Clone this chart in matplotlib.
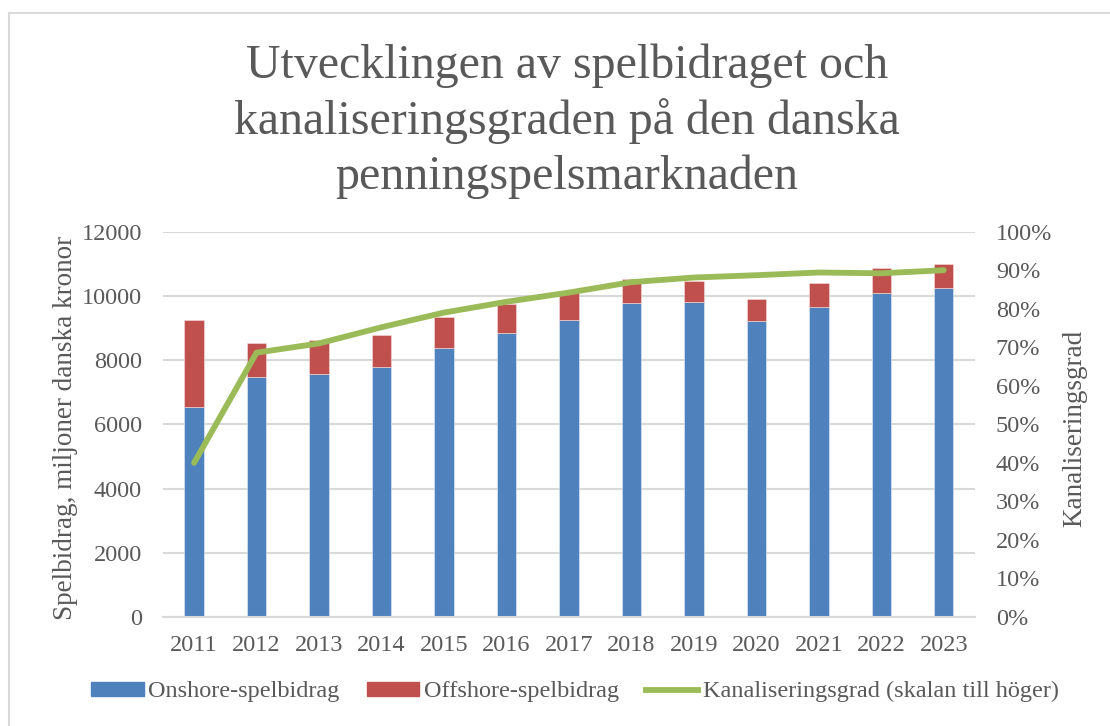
import matplotlib
matplotlib.use("Agg")
import matplotlib.pyplot as plt
from matplotlib.patches import Patch
from matplotlib.lines import Line2D
from matplotlib.ticker import FuncFormatter
import numpy as np

years = ['2011', '2012', '2013', '2014', '2015', '2016', '2017',
         '2018', '2019', '2020', '2021', '2022', '2023']
onshore = [6530, 7470, 7560, 7780, 8370, 8840, 9250,
           9770, 9810, 9210, 9650, 10100, 10260]
total = [9240, 8540, 8630, 8780, 9350, 9750, 10130,
         10520, 10470, 9910, 10400, 10860, 10980]
offshore = [t - o for t, o in zip(total, onshore)]
kanal = [0.40, 0.686, 0.710, 0.752, 0.790, 0.818, 0.842,
         0.869, 0.881, 0.887, 0.894, 0.892, 0.900]

blue = '#4F81BD'
red = '#C0504D'
green = '#9BBB59'
txt = '#595959'
grid = '#D9D9D9'

plt.rcParams['font.family'] = ['Liberation Serif', 'DejaVu Serif']

fig = plt.figure(figsize=(11.1, 7.26), dpi=100)
ax = fig.add_axes([0.1467, 0.1501, 0.7317, 0.5308])

x = np.arange(len(years))
ax.bar(x, onshore, width=0.31, color=blue, edgecolor='#E6EEF7', linewidth=0.4, zorder=2)
ax.bar(x, offshore, width=0.31, bottom=onshore, color=red, edgecolor='#F3DEDD', linewidth=0.4, zorder=2)
ax.set_xlim(-0.5, len(years) - 0.5)
ax.set_ylim(0, 12000)
ax.set_yticks(range(0, 12001, 2000))
ax.set_xticks(x)
ax.set_xticklabels(years)
ax.yaxis.grid(True, color=grid, linewidth=1.5, zorder=0)
ax.set_axisbelow(True)
for s in ['top', 'left', 'right']:
    ax.spines[s].set_visible(False)
ax.spines['bottom'].set_color(grid)
ax.spines['bottom'].set_linewidth(1.5)
ax.tick_params(axis='both', length=0, labelsize=17.5, colors=txt)
ax.tick_params(axis='y', pad=15)
ax.tick_params(axis='x', pad=13)
ax.set_ylabel('Spelbidrag, miljoner danska kronor', fontsize=19.5, color=txt)
ax.yaxis.set_label_coords(-0.104, 0.49)

ax2 = ax.twinx()
ax2.plot(x, kanal, color=green, linewidth=4.2, solid_capstyle='round', solid_joinstyle='round', zorder=3)
ax2.set_ylim(0, 1)
ax2.set_yticks(np.arange(0, 1.01, 0.1))
ax2.yaxis.set_major_formatter(FuncFormatter(lambda v, p: '{:.0f}%'.format(v * 100)))
for s in ['top', 'left', 'right', 'bottom']:
    ax2.spines[s].set_visible(False)
ax2.tick_params(axis='y', length=0, labelsize=17.5, colors=txt, pad=15)
ax2.set_ylabel('Kanaliseringsgrad', fontsize=19.5, color=txt)
ax2.yaxis.set_label_coords(1.108, 0.49)

fig.text(0.511, 0.833, 'Utvecklingen av spelbidraget och\nkanaliseringsgraden på den danska\npenningspelsmarknaden',
         ha='center', va='center', fontsize=34.5, color=txt, linespacing=1.29)

handles = [Patch(color=blue), Patch(color=red), Line2D([0], [0], color=green, linewidth=4.2)]
labels = ['Onshore-spelbidrag', 'Offshore-spelbidrag', 'Kanaliseringsgrad (skalan till höger)']
leg = fig.legend(handles, labels, loc='center', bbox_to_anchor=(0.518, 0.047), ncol=3,
                 frameon=False, fontsize=17.5, handlelength=2.15, handleheight=0.53,
                 handletextpad=0.2, columnspacing=1.1)
for t in leg.get_texts():
    t.set_color(txt)

# thin frame of the chart area (top and left edges visible)
fig.add_artist(Line2D([9 / 1110, 1], [1 - 13 / 726, 1 - 13 / 726], color=grid, linewidth=1.5))
fig.add_artist(Line2D([9 / 1110, 9 / 1110], [0, 1 - 13 / 726], color=grid, linewidth=1.5))

fig.savefig('out.png', dpi=100)
